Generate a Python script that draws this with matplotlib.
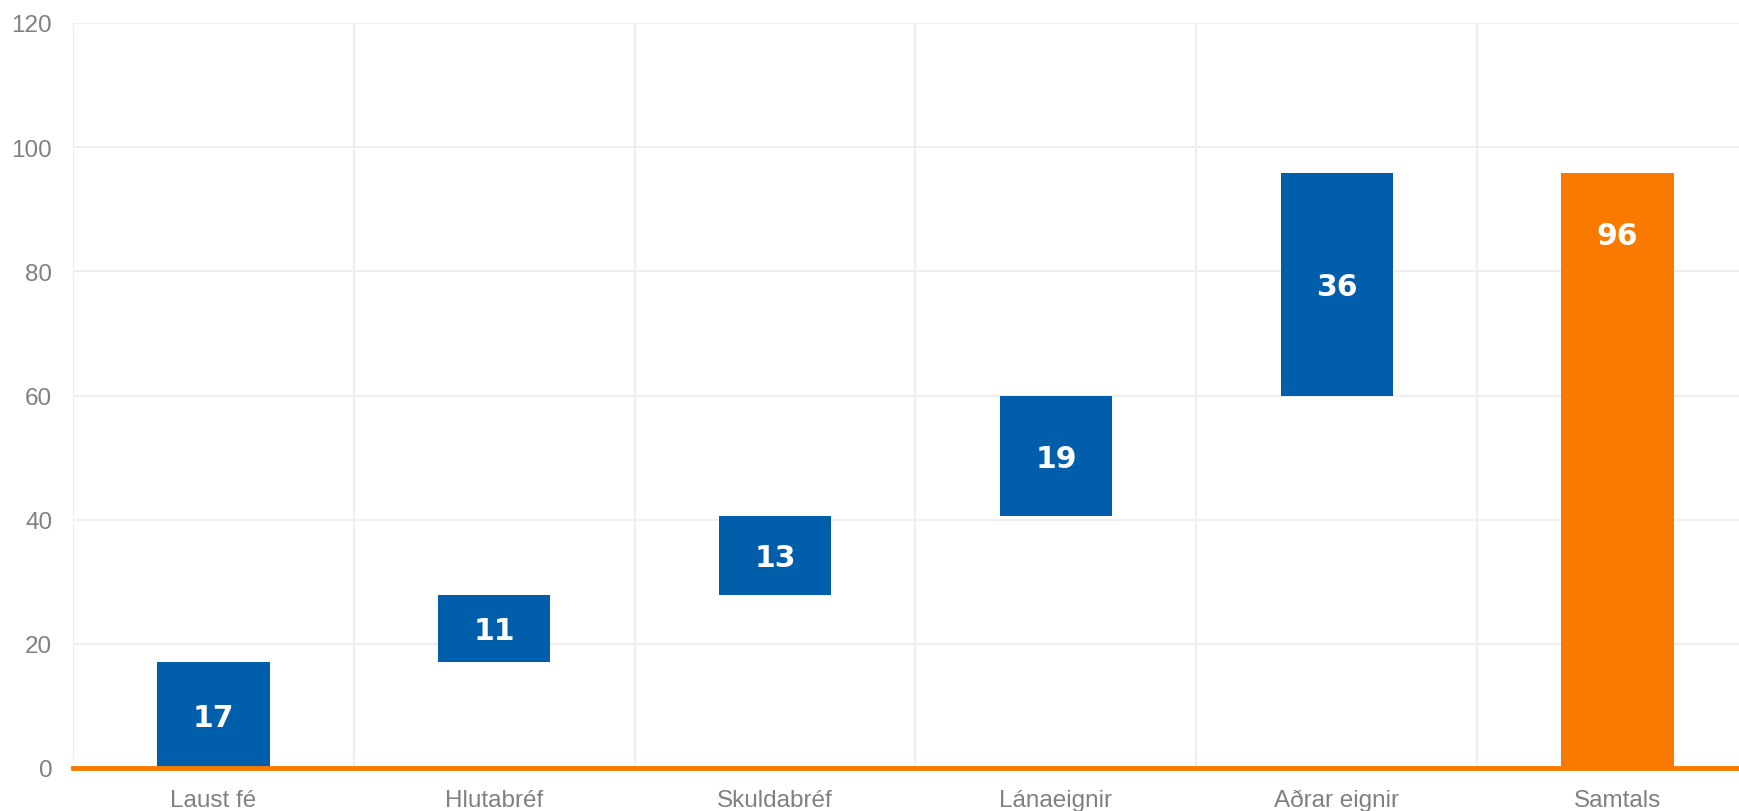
import matplotlib

matplotlib.use("Agg")
import matplotlib.pyplot as plt
import numpy as np

categories = ["Laust fé", "Hlutabréf", "Skuldabréf", "Lánaeignir", "Aðrar eignir", "Samtals"]
steps = [17.1, 10.8, 12.7, 19.3, 36.0]
step_labels = ["17", "11", "13", "19", "36"]
total_label = "96"
yticks = [0, 20, 40, 60, 80, 100, 120]

BLUE = "#005EAB"
ORANGE = "#F97A00"
GRID = "#EEEEEE"
TICK = "#808080"

fig = plt.figure(figsize=(17.4, 8.12), dpi=100)
# plot area runs a little past the right edge of the figure, like the original
ax = fig.add_axes([73 / 1740, 43 / 812, 1685 / 1740, 745 / 812])

x = np.arange(len(categories))
ends = np.cumsum(steps)
starts = ends - np.array(steps)
total = ends[-1]

ax.bar(x[:-1], steps, bottom=starts, width=0.4, color=BLUE, zorder=2)
ax.bar(x[-1], total, width=0.4, color=ORANGE, zorder=2)

for xi, s, e, lab in zip(x[:-1], starts, ends, step_labels):
    ax.text(xi, (s + e) / 2 - 0.4, lab, ha="center", va="center", color="white",
            fontsize=21.5, fontweight="bold", family="DejaVu Sans", zorder=3)
ax.annotate(total_label, (x[-1], total), textcoords="offset points", xytext=(0, -45),
            ha="center", va="center", color="white", fontsize=21.5,
            fontweight="bold", family="DejaVu Sans", zorder=3)

ax.set_xlim(-0.5, len(categories) - 0.5)
ax.set_ylim(0, 120)
ax.set_yticks(yticks)
ax.set_xticks(x)
ax.set_xticklabels(categories)
ax.set_xticks(np.arange(-0.5, len(categories)), minor=True)

ax.grid(True, axis="y", which="major", color=GRID, lw=1.5, zorder=0)
ax.grid(True, axis="x", which="minor", color=GRID, lw=1.5, zorder=0)
ax.tick_params(axis="both", which="both", length=0)
ax.tick_params(axis="y", pad=15)
ax.tick_params(axis="x", pad=15)
for lab in ax.get_xticklabels() + ax.get_yticklabels():
    lab.set_family("Liberation Sans")
    lab.set_fontsize(17.5)
    lab.set_color(TICK)

for side in ("top", "right", "left", "bottom"):
    ax.spines[side].set_visible(False)
ax.axhline(0, color=ORANGE, lw=3.5, zorder=4, clip_on=False)

fig.savefig("out.png", dpi=100)
plt.close(fig)
